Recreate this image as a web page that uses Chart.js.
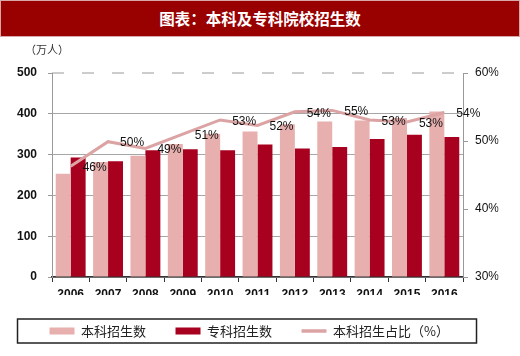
<!DOCTYPE html>
<html><head><meta charset="utf-8">
<script src="https://cdn.jsdelivr.net/npm/chart.js@4"></script>
<style>
html,body{margin:0;padding:0;background:#fff;}
#wrap{position:relative;width:520px;height:356px;overflow:hidden;background:#fff;}
#title{position:absolute;left:0;top:0;width:520px;height:37px;box-sizing:border-box;background:#990000;border:1px solid #d8a8a8;color:#fff;font-family:"Noto Sans CJK SC";font-weight:bold;font-size:15.5px;text-align:center;line-height:35px;}
#unit{position:absolute;left:25px;top:41px;font-family:"Noto Sans CJK SC";font-size:11px;line-height:16px;color:#333;}
canvas{position:absolute;left:0;top:0;}
</style></head>
<body><div id="wrap"><canvas id="c" width="520" height="356"></canvas><div id="title">图表：本科及专科院校招生数</div><div id="unit">（万人）</div></div>
<script>
// ---- data ----
const categories = ['2006','2007','2008','2009','2010','2011','2012','2013','2014','2015','2016'];
const undergradEnrollment = [253.1, 282.1, 297.1, 326.1, 351.3, 356.6, 374.1, 381.4, 383.4, 389.4, 405.4];
const juniorEnrollment    = [293.0, 283.8, 310.6, 313.4, 310.5, 324.9, 314.8, 318.4, 338.0, 348.4, 343.2];
const undergradShare      = [46.3, 49.9, 48.9, 51.0, 53.1, 52.3, 54.3, 54.5, 53.1, 52.8, 54.2];
const shareLabels = ['46%','50%','49%','51%','53%','52%','54%','55%','53%','53%','54%'];
const seriesNames = ['本科招生数','专科招生数','本科招生占比（%）'];
const leftTicks = [0,100,200,300,400,500];
const rightTicks = [30,40,50,60];

const PINK = '#E8AFAF', DARK = '#A8001F', LINE = '#DBA3A3';
Chart.defaults.font.family = '"Liberation Sans", Arial, sans-serif';

const PAD_L = 0, PAD_R = 21.5;

const extras = {
  id: 'extras',
  beforeDatasetsDraw(chart) {
    const {ctx, chartArea, scales} = chart;
    const y = scales.y.getPixelForValue(leftTicks[leftTicks.length-1]);
    ctx.save();
    ctx.setLineDash([12, 18]);
    ctx.strokeStyle = '#9a9a9a';
    ctx.lineWidth = 1;
    ctx.beginPath();
    ctx.moveTo(chartArea.left, y);
    ctx.lineTo(chartArea.right, y);
    ctx.stroke();
    ctx.restore();
  },
  afterDatasetsDraw(chart) {
    const ctx = chart.ctx;
    const meta = chart.getDatasetMeta(2);
    ctx.save();
    ctx.font = '12px "Liberation Sans"';
    ctx.fillStyle = '#111';
    ctx.textAlign = 'center';
    ctx.textBaseline = 'middle';
    meta.data.forEach((pt, i) => ctx.fillText(shareLabels[i], pt.x + 24, pt.y + 1.5));
    ctx.restore();
  },
  afterDraw(chart) {
    const ctx = chart.ctx;
    const hb = chart.legend.legendHitBoxes;
    if (!hb || !hb.length) return;
    const first = hb[0];
    const cy = first.top + first.height / 2;
    ctx.save();
    ctx.strokeStyle = '#222';
    ctx.lineWidth = 1.5;
    ctx.strokeRect(first.left - 32, cy - 12, 459, 24);
    ctx.restore();
  }
};

new Chart(document.getElementById('c'), {
  data: {
    labels: categories,
    datasets: [
      {type:'bar', label: seriesNames[0], data: undergradEnrollment, backgroundColor: PINK, borderWidth: 0, yAxisID:'y', order: 2, categoryPercentage: 0.8, barPercentage: 1.0},
      {type:'bar', label: seriesNames[1], data: juniorEnrollment, backgroundColor: DARK, borderWidth: 0, yAxisID:'y', order: 2, categoryPercentage: 0.8, barPercentage: 1.0},
      {type:'line', label: seriesNames[2], data: undergradShare, borderColor: LINE, backgroundColor: LINE, borderWidth: 3, pointRadius: 0, tension: 0, yAxisID:'y1', order: 1}
    ]
  },
  options: {
    responsive: false,
    animation: false,
    devicePixelRatio: 1,
    layout: {padding: {top: 73, bottom: 8.5, left: PAD_L, right: PAD_R}},
    plugins: {
      tooltip: {enabled: false},
      legend: {
        position: 'bottom',
        labels: {
          usePointStyle: true, pointStyleWidth: 25, boxHeight: 7, padding: 29.5,
          font: {family: '"Noto Sans CJK SC"', size: 13}, color: '#222',
          generateLabels(chart) {
            return chart.data.datasets.map((ds, i) => ({
              text: ds.label, datasetIndex: i, hidden: false, fontColor: '#222',
              fillStyle: ds.type === 'line' ? 'rgba(0,0,0,0)' : ds.backgroundColor,
              strokeStyle: ds.type === 'line' ? ds.borderColor : ds.backgroundColor,
              lineWidth: ds.type === 'line' ? 3.5 : 0,
              pointStyle: ds.type === 'line' ? 'line' : 'rect'
            }));
          }
        }
      }
    },
    scales: {
      x: {
        grid: {offset: true, drawOnChartArea: false, tickLength: 5, tickColor: '#333', color: '#333'},
        border: {color: '#333', width: 1.5},
        ticks: {font: {size: 12, weight: 'bold'}, color: '#111', padding: 5, maxRotation: 0},
        afterFit(s) { s.height = 18; }
      },
      y: {
        position: 'left', min: 0, max: 500,
        afterBuildTicks(s) { s.ticks = leftTicks.map(v => ({value: v})); },
        grid: {color: ctx => (ctx.tick && ctx.tick.value === 500) ? 'rgba(0,0,0,0)' : '#a6a6a6', tickColor: '#999', tickLength: 4, lineWidth: 1},
        border: {color: '#999', width: 1},
        ticks: {font: {size: 12, weight: 'bold'}, color: '#111', padding: 11},
        afterFit(s) { s.width = 52 - PAD_L; }
      },
      y1: {
        position: 'right', min: 30, max: 60,
        afterBuildTicks(s) { s.ticks = rightTicks.map(v => ({value: v})); },
        grid: {drawOnChartArea: false, tickColor: '#999', tickLength: 5},
        border: {color: '#999', width: 1},
        ticks: {font: {size: 12}, color: '#111', padding: 7, callback: v => v + '%'},
        afterFit(s) { s.width = 520 - PAD_R - 463; }
      }
    }
  },
  plugins: [extras]
});
</script>
</body></html>
